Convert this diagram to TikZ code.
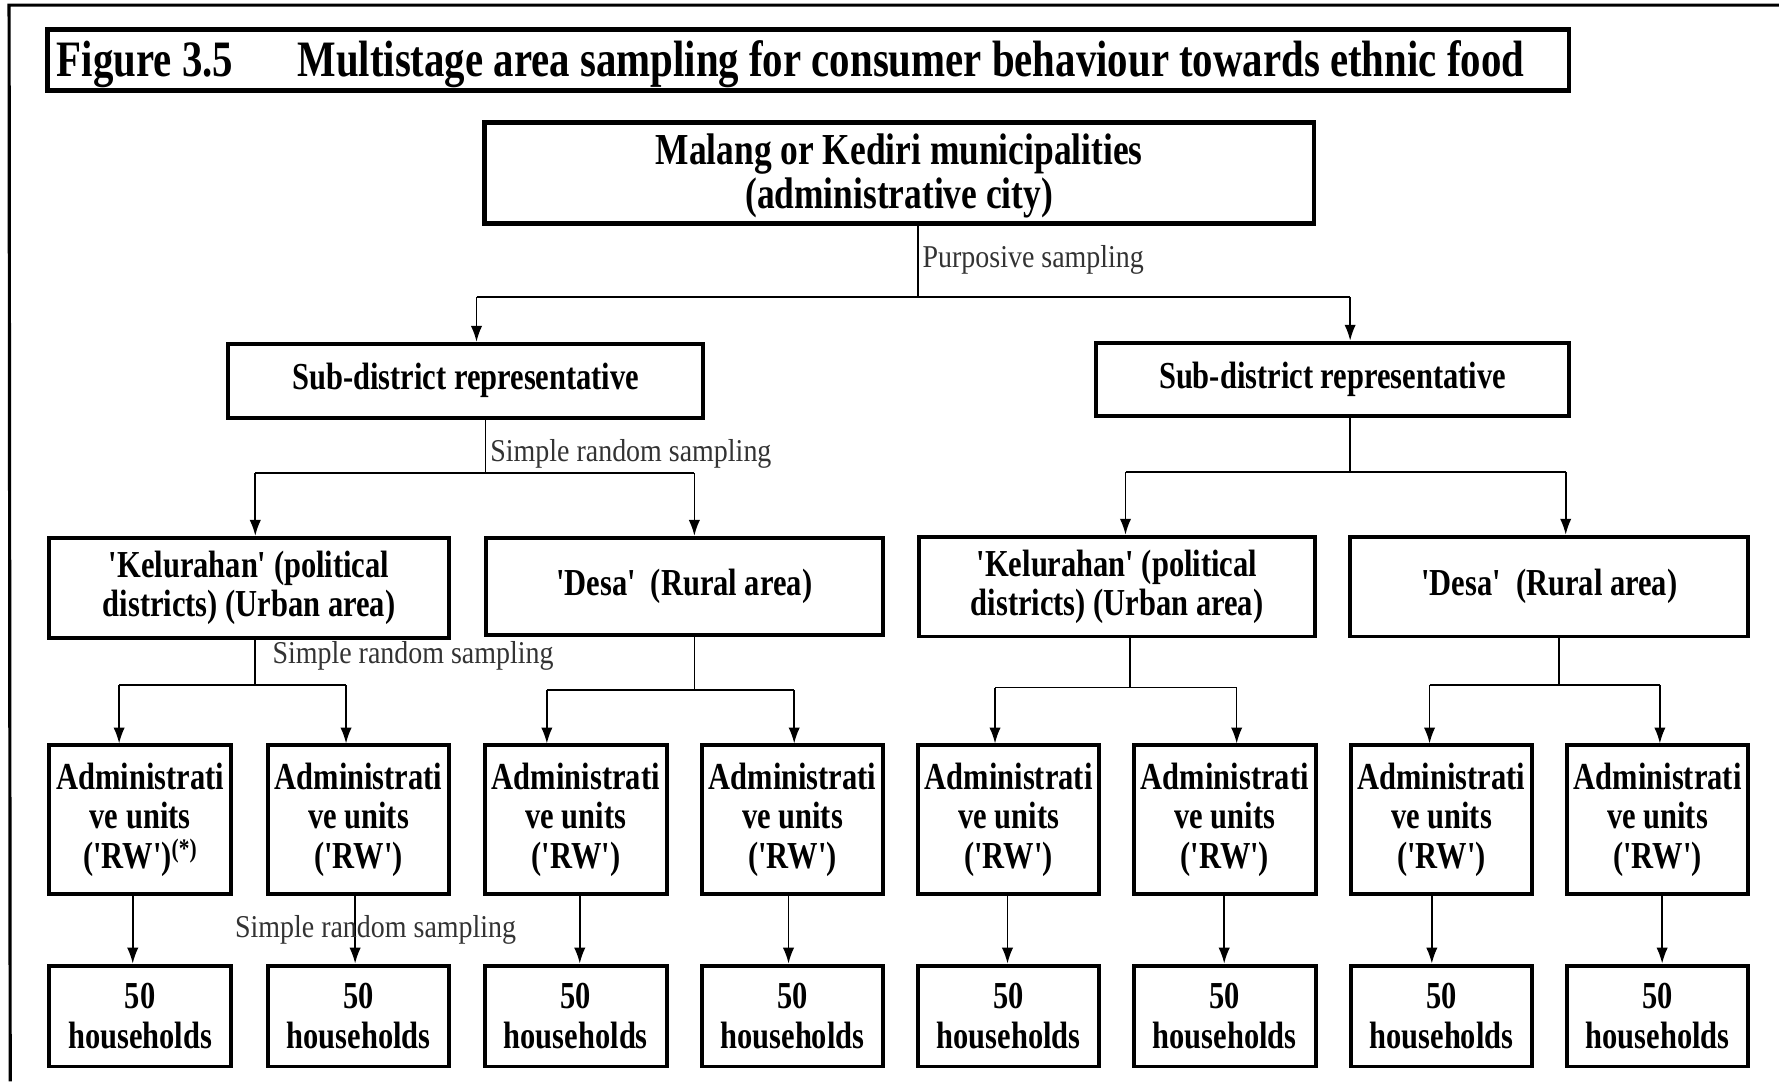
\documentclass[tikz,border=0pt]{standalone}
\usepackage{fontspec}
\newfontfamily\cond{Liberation Serif}[FakeStretch=0.8]
\newfontfamily\lblf{Liberation Serif}[FakeStretch=0.88]
\usetikzlibrary{arrows.meta}
\definecolor{lblgrey}{HTML}{333333}
\begin{document}
\begin{tikzpicture}[x=1pt,y=-1pt,
  box/.style={draw, line width=3.5pt, inner sep=0pt, align=center,
    font=\cond\bfseries\fontsize{33.6}{34.5}\selectfont},
  arr/.style={line width=1.4pt, -{Latex[length=14pt,width=10pt]}},
  ln/.style={line width=1.4pt},
  lbl/.style={anchor=west, inner sep=0pt, text=lblgrey,
    font=\lblf\fontsize{28}{30}\selectfont},
  ttlfont/.style={anchor=base west, inner sep=0pt,
    font=\cond\bfseries\fontsize{45}{45}\selectfont}]
\useasboundingbox (0,0) rectangle (1568,953);
\fill[white] (0,0) rectangle (1568,953);
% outer frame (open on the right and bottom)
\draw[line width=2.8pt] (1568,4.5) -- (8,4.5) -- (9,953);
% title
\node[box, line width=4pt, minimum width=1341pt, minimum height=54pt] (title) at (712.5,53) {};
\node[ttlfont] (fig) at (50,67) {Figure 3.5};
\node[ttlfont] (ttl) at (262,67) {Multistage area sampling for consumer behaviour towards ethnic food};
% level 0
\node[box, line width=4pt, minimum width=731pt, minimum height=89pt] (top) at (792.5,152.5) {};
\node[inner sep=0pt, align=center, font=\cond\bfseries\fontsize{39}{39.5}\selectfont] (toptext) at (792.5,155)
  {Malang or Kediri municipalities\\(administrative city)};
% level 1
\node[box, minimum width=419pt, minimum height=65pt] (subL) at (410.5,335.5) {Sub-district representative};
\node[box, minimum width=417pt, minimum height=65pt] (subR) at (1174.5,334.5) {Sub-district representative};
% level 2
\node[box, minimum width=353pt, minimum height=88pt] (kelL) at (219.5,518) {'Kelurahan' (political\\districts) (Urban area)};
\node[box, minimum width=350pt, minimum height=86pt] (desaL) at (603,517) {'Desa'\ \ (Rural area)};
\node[box, minimum width=349pt, minimum height=88pt] (kelR) at (984.5,517) {'Kelurahan' (political\\districts) (Urban area)};
\node[box, minimum width=351pt, minimum height=88pt] (desaR) at (1365.5,517) {'Desa'\ \ (Rural area)};
% level 3 and 4
\node[box, minimum width=161pt, minimum height=131pt] (rw1) at (123.5,722.5) {Administrati\\ve units\\('RW')\textsuperscript{(*)}};
\foreach \i/\cx in {2/316,3/507.5,4/698.5,5/889,6/1079.5,7/1270.5,8/1461}{
  \node[box, minimum width=160pt, minimum height=131pt] (rw\i) at (\cx,722.5) {Administrati\\ve units\\('RW')};
}
\foreach \i/\cx in {1/123.5,2/316,3/507.5,4/698.5,5/889,6/1079.5,7/1270.5,8/1461}{
  \node[box, minimum width=160pt, minimum height=89pt] (hh\i) at (\cx,895.5) {50\\households};
}
% connectors: top -> sub-districts
\coordinate (j1) at (809,262);
\coordinate (b1l) at (420,262);
\coordinate (b1r) at (1190,262);
\draw[ln] (top.south -| j1) -- (j1);
\draw[ln] (b1l) -- (b1r);
\draw[arr] (b1l) -- (b1l |- subL.north);
\draw[arr] (b1r) -- (b1r |- subR.north);
\node[lbl] (lp) at (813,229) {Purposive sampling};
% sub-district -> kelurahan / desa
\foreach \p/\sx/\by/\lx/\rx/\lc/\rc in {subL/428/417/225/612/kelL/desaL, subR/1190/416/992/1380/kelR/desaR}{
  \coordinate (s-\p) at (\sx,\by);
  \coordinate (l-\p) at (\lx,\by);
  \coordinate (r-\p) at (\rx,\by);
  \draw[ln] (\p.south -| s-\p) -- (s-\p);
  \draw[ln] (l-\p) -- (r-\p);
  \draw[arr] (l-\p) -- (l-\p |- \lc.north);
  \draw[arr] (r-\p) -- (r-\p |- \rc.north);
}
\node[lbl] (ls1) at (432,400) {Simple random sampling};
% kelurahan / desa -> RW
\foreach \p/\sx/\by/\lx/\rx/\lc/\rc in {kelL/225/604/105/305/rw1/rw2, desaL/612/608/482/700/rw3/rw4, kelR/996/606/877/1090/rw5/rw6, desaR/1374/604/1260/1463/rw7/rw8}{
  \coordinate (s-\p) at (\sx,\by);
  \coordinate (l-\p) at (\lx,\by);
  \coordinate (r-\p) at (\rx,\by);
  \draw[ln] (\p.south -| s-\p) -- (s-\p);
  \draw[ln] (l-\p) -- (r-\p);
  \draw[arr] (l-\p) -- (l-\p |- \lc.north);
  \draw[arr] (r-\p) -- (r-\p |- \rc.north);
}
\node[lbl] (ls2) at (240,578) {Simple random sampling};
% RW -> households
\foreach \i/\ax in {1/117,2/313,3/511,4/695,5/888,6/1079,7/1262,8/1465}{
  \coordinate (a\i) at (\ax,0);
  \draw[arr] (rw\i.south -| a\i) -- (hh\i.north -| a\i);
}
\node[lbl] (ls3) at (207,820) {Simple random sampling};
\end{tikzpicture}
\end{document}
